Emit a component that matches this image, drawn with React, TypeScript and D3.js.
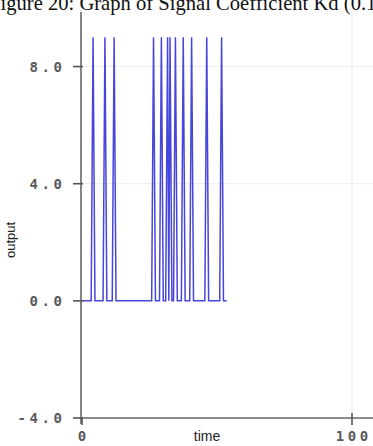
import React from "react";
import * as d3 from "d3";

// Sampled signal: time and output values
const times = [
  0, 3.4, 4.1, 4.8, 7.8, 8.5, 9.2, 11.2, 11.9, 12.6,
  25.8, 26.5, 27.2, 28.7, 29.4, 30.1, 31.0, 31.7, 32.15, 32.6, 33.3,
  33.9, 34.6, 35.3, 36.8, 37.5, 38.2, 39.9, 40.6, 41.3,
  45.5, 46.2, 46.9, 51.0, 51.7, 52.4, 53.6,
];
const outputs = [
  0, 0, 9, 0, 0, 9, 0, 0, 9, 0,
  0, 9, 0, 0, 9, 0, 0, 9, 0, 9, 0,
  0, 9, 0, 0, 9, 0, 0, 9, 0,
  0, 9, 0, 0, 9, 0, 0,
];

const yTicks = [-4, 0, 4, 8];
const xTicks = [0, 100];
const gridY = [4, 8];
const gridX = [100];

const title = "Figure 20: Graph of Signal Coefficient Kd (0.1)";

export default function App() {
  const W = 373;
  const H = 446;
  const x = d3.scaleLinear().domain([0, 100]).range([82, 352]);
  const y = d3.scaleLinear().domain([-4, 10]).range([418, 8]);

  const pts: [number, number][] = times.map((t, i) => [t, outputs[i]]);
  const line = d3
    .line<[number, number]>()
    .x((d) => x(d[0]))
    .y((d) => y(d[1]));

  const tickFont = {
    fontFamily: "DejaVu Sans Mono",
    fontSize: 14,
    fontWeight: "bold" as const,
    fill: "#5a5a5a",
    letterSpacing: 3.6,
  };

  return (
    <svg
      width={W}
      height={H}
      style={{ position: "absolute", left: 0, top: 0, background: "#fff" }}
    >
      <rect width={W} height={H} fill="#fff" />
      {/* grid */}
      {gridY.map((v) => (
        <line key={"gy" + v} x1={x(0)} x2={W} y1={y(v)} y2={y(v)} stroke="#ececec" strokeWidth={1} />
      ))}
      {gridX.map((v) => (
        <line key={"gx" + v} x1={x(v)} x2={x(v)} y1={y(10) + 4} y2={y(-4)} stroke="#ececec" strokeWidth={1} />
      ))}

      {/* signal */}
      <path d={line(pts) ?? ""} fill="none" stroke="#4646dc" strokeWidth={1.5} strokeLinejoin="miter" />

      {/* axes */}
      <line x1={81} x2={81} y1={12} y2={y(-4) + 6} stroke="#666" strokeWidth={1.6} />
      <line x1={81} x2={W} y1={y(-4)} y2={y(-4)} stroke="#666" strokeWidth={1.6} />

      {yTicks.map((v) => (
        <g key={"yt" + v}>
          <line x1={73} x2={83} y1={y(v)} y2={y(v)} stroke="#555" strokeWidth={1.6} />
          <text x={65.6} y={y(v)} dy="0.38em" textAnchor="end" {...tickFont}>
            {v.toFixed(1)}
          </text>
        </g>
      ))}
      {xTicks.map((v) => (
        <g key={"xt" + v}>
          <line x1={x(v)} x2={x(v)} y1={y(-4) - (v === 0 ? 0 : 5)} y2={y(-4) + 7} stroke="#555" strokeWidth={1.6} />
          <text x={x(v) + 1.8} y={441} textAnchor="middle" {...tickFont}>
            {v}
          </text>
        </g>
      ))}

      {/* axis titles */}
      <text
        transform={`translate(15,240) rotate(-90)`}
        textAnchor="middle"
        fontFamily="Liberation Sans, Arial, sans-serif"
        fontSize={13}
        fill="#222"
      >
        output
      </text>
      <text
        x={207}
        y={441}
        textAnchor="middle"
        fontFamily="Liberation Sans, Arial, sans-serif"
        fontSize={14}
        fill="#222"
      >
        time
      </text>

      {/* figure caption */}
      <text x={-11} y={10} fontFamily="Liberation Serif, Times New Roman, serif" fontSize={20.6} fill="#111">
        {title}
      </text>
    </svg>
  );
}
